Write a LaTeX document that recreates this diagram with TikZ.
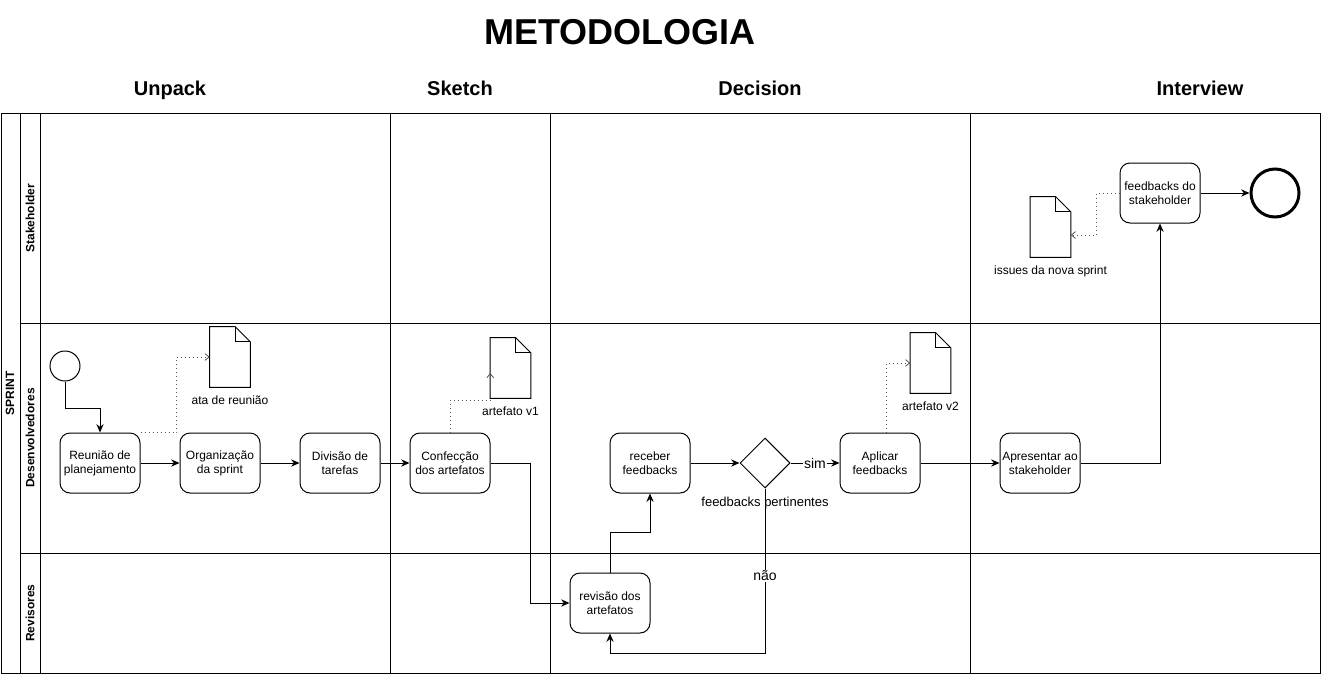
\documentclass[tikz,border=0pt]{standalone}
\usepackage{fontspec}
\setmainfont{Liberation Sans}
\usepackage{tikz}
\usetikzlibrary{arrows.meta,positioning,calc,shapes.geometric}
\definecolor{dotgray}{HTML}{555555}
\tikzset{task/.style={rectangle,rounded corners=7.5pt,draw,line width=0.75pt,minimum width=60pt,
  minimum height=45pt,inner sep=1pt,align=center,font=\fontsize{9}{10.5}\selectfont},
  flow/.style={-{Stealth[length=2.2mm,width=1.9mm]},line width=0.75pt},
  assoc/.style={-{Straight Barb[length=1.1mm,width=1.8mm]},line width=0.6pt,draw=dotgray,
  dash pattern=on 0.75pt off 2.25pt},
  lane/.style={line width=0.75pt},
  doc/.style={rectangle,minimum width=30pt,minimum height=45pt,inner sep=0pt},
  sheet/.style={line width=0.75pt,line join=miter},
  doclabel/.style={font=\fontsize{9}{10.5}\selectfont,inner sep=1pt},
  elabel/.style={font=\fontsize{10.5}{12}\selectfont,fill=white,inner sep=1pt},
  lanename/.style={rotate=90,font=\bfseries\fontsize{9}{10}\selectfont},
  phase/.style={anchor=base,font=\bfseries\fontsize{15}{18}\selectfont}}
\newcommand{\docsheet}[1]{%
  \draw[sheet] (#1.south west) -- (#1.north west) -- ([xshift=-11.25pt]#1.north east)
    -- ([yshift=-11.25pt]#1.north east) -- (#1.south east) -- cycle;
  \draw[sheet] ([xshift=-11.25pt]#1.north east) |- ([yshift=-11.25pt]#1.north east);}

\begin{document}
\begin{tikzpicture}[x=0.75pt,y=-0.75pt]
 \useasboundingbox (0,0) rectangle (1321,675);
 \node[font=\bfseries\fontsize{27}{30}\selectfont] (title) at (620,32) {METODOLOGIA};
 \node[phase] (unpack) at (170,95) {Unpack};
 \node[phase] (sketch) at (460,95) {Sketch};
 \node[phase] (decision) at (760,95) {Decision};
 \node[phase] (interview) at (1200,95) {Interview};
 % pool and lanes
 \draw[lane] (1,113) rectangle (1320,673);
 \draw[lane] (20,113) -- (20,673);
 \draw[lane] (40,113) -- (40,673);
 \draw[lane] (20,323) -- (1320,323);
 \draw[lane] (20,553) -- (1320,553);
 \foreach \x in {390,550,970} \draw[lane] (\x,113) -- (\x,673);
 \node[lanename] (sprint) at (10,393) {SPRINT};
 \node[lanename] (stake) at (30,218) {Stakeholder};
 \node[lanename] (dev) at (30,438) {Desenvolvedores};
 \node[lanename] (revs) at (30,613) {Revisores};
 % events, tasks, gateway
 \node[circle,draw,line width=0.75pt,minimum size=22.5pt,inner sep=0pt] (start) at (65,366) {};
 \node[circle,draw,line width=2.25pt,minimum size=36pt,inner sep=0pt] (end) at (1275,193) {};
 \node[task] (reun) at (100,463) {Reunião de\\planejamento};
 \node[task] (org) at (220,463) {Organização\\da sprint};
 \node[task] (div) at (340,463) {Divisão de\\tarefas};
 \node[task] (conf) at (450,463) {Confecção\\dos artefatos};
 \node[task] (recv) at (650,463) {receber\\feedbacks};
 \node[diamond,draw,line width=0.75pt,minimum width=37.5pt,minimum height=37.5pt,inner sep=0pt] (gate) at (765,463) {};
 \node[font=\fontsize{9.75}{11}\selectfont,inner sep=1pt] (gatetext) at (765,503) {feedbacks pertinentes};
 \node[task] (apl) at (880,463) {Aplicar\\feedbacks};
 \node[task] (apr) at (1040,463) {Apresentar ao\\stakeholder};
 \node[task] (rev) at (610,603) {revisão dos\\artefatos};
 \node[task] (fbs) at (1160,193) {feedbacks do\\stakeholder};
 % data objects
 \node[doc] (ata) at (230,357) {};
 \node[doc] (art1) at (510.5,368) {};
 \node[doc] (art2) at (930.5,363) {};
 \node[doc] (issues) at (1050.5,227) {};
 \docsheet{ata} \docsheet{art1} \docsheet{art2} \docsheet{issues}
 \node[doclabel,below=5pt of ata] (atatext) {ata de reunião};
 \node[doclabel,below=5pt of art1] (art1text) {artefato v1};
 \node[doclabel,below=5pt of art2] (art2text) {artefato v2};
 \node[doclabel,below=5pt of issues] (issuestext) {issues da nova sprint};
 % sequence flows
 \draw[flow] (start.south) -- ++(0,27) -| (reun.north);
 \draw[flow] (reun) -- (org);
 \draw[flow] (org) -- (div);
 \draw[flow] (div) -- (conf);
 \draw[flow] (conf.east) -- ++(40,0) |- (rev.west);
 \draw[flow] (rev.north) -- ++(0,-40) -| (recv.south);
 \draw[flow] (recv) -- (gate);
 \draw[flow] (gate) -- node[elabel] {sim} (apl);
 \draw[flow] (gate.south) -- node[elabel,pos=0.53] {não} ++(0,165) -| (rev.south);
 \draw[flow] (apl) -- (apr);
 \draw[flow] (apr.east) -| (fbs.south);
 \draw[flow] (fbs) -- (end);
 % associations
 \draw[assoc] (reun.north east) -- ++(36,0) |- (ata.west);
 \draw[assoc] (conf.north) |- ($(art1.south west)+(0,2)$) -- ($(art1.west)+(0,5)$);
 \draw[assoc] ([xshift=4.5pt]apl.north) |- (art2.west);
 \draw[assoc] (fbs.west) -- ++(-23,0) |- ($(issues.east)+(0,8)$);
\end{tikzpicture}
\end{document}
